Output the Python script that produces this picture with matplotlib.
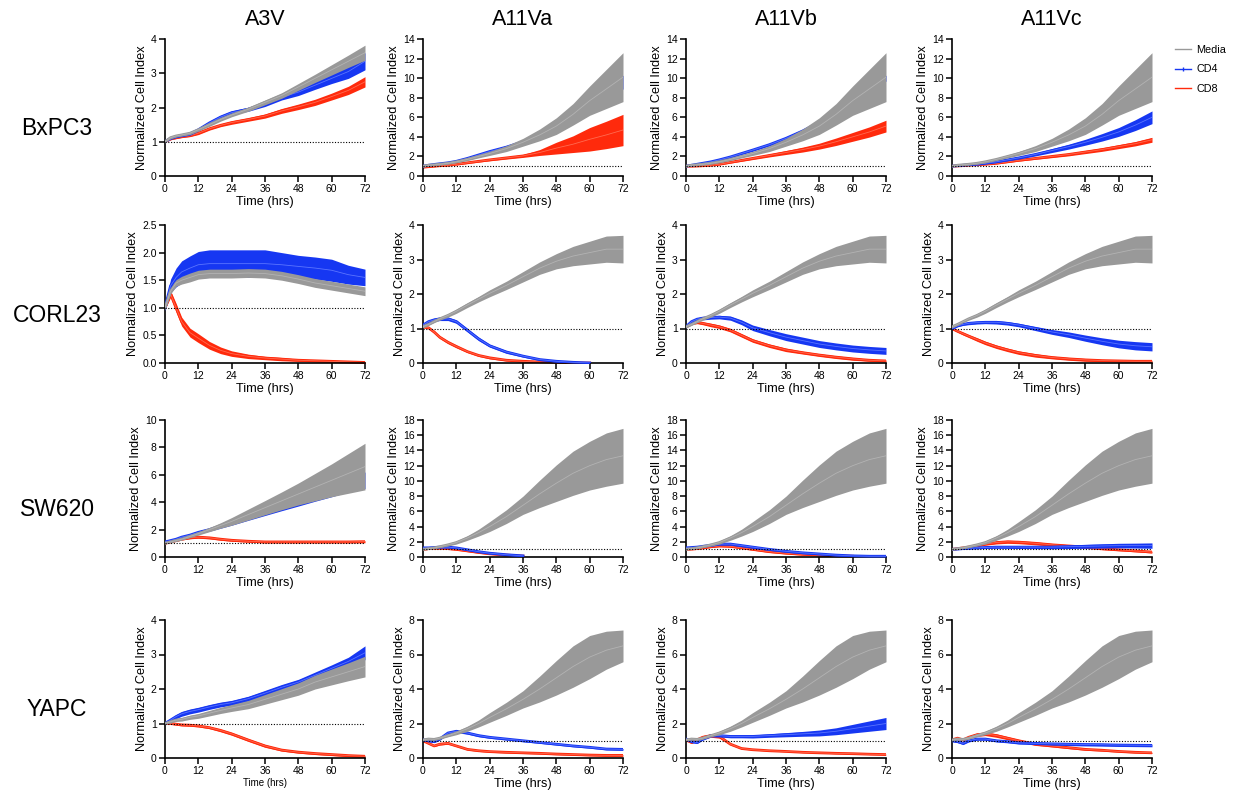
import numpy as np
import matplotlib
matplotlib.use("Agg")
import matplotlib.pyplot as plt
from matplotlib.lines import Line2D

plt.rcParams['font.family'] = ['Liberation Sans', 'DejaVu Sans']

times = [0, 2, 4, 6, 9, 12, 16, 20, 24, 30, 36, 42, 48, 54, 60, 66, 72]
nan = np.nan

cols = ['A3V', 'A11Va', 'A11Vb', 'A11Vc']
rows = ['BxPC3', 'CORL23', 'SW620', 'YAPC']
ylims = [[4, 14, 14, 14], [2.5, 4, 4, 4], [10, 18, 18, 18], [4, 8, 8, 8]]
yticks = [[[0, 1, 2, 3, 4]] + [list(range(0, 15, 2))] * 3,
          [[0, 0.5, 1.0, 1.5, 2.0, 2.5]] + [[0, 1, 2, 3, 4]] * 3,
          [list(range(0, 11, 2))] + [list(range(0, 19, 2))] * 3,
          [[0, 1, 2, 3, 4]] + [[0, 2, 4, 6, 8]] * 3]

# ---- BxPC3 ----
bx_a3v_media = [1.0, 1.12, 1.17, 1.2, 1.25, 1.35, 1.5, 1.65, 1.78, 1.95, 2.15, 2.35, 2.6, 2.85, 3.1, 3.35, 3.6]
bx_a3v_media_err = [0.02, 0.03, 0.03, 0.03, 0.04, 0.04, 0.05, 0.05, 0.05, 0.06, 0.07, 0.08, 0.1, 0.12, 0.15, 0.18, 0.22]
bx_a3v_cd4 = [1.0, 1.1, 1.15, 1.18, 1.23, 1.35, 1.55, 1.72, 1.85, 1.95, 2.1, 2.3, 2.45, 2.65, 2.85, 3.05, 3.35]
bx_a3v_cd4_err = [0.02, 0.03, 0.03, 0.03, 0.04, 0.04, 0.05, 0.05, 0.05, 0.06, 0.07, 0.08, 0.1, 0.12, 0.15, 0.2, 0.25]
bx_a3v_cd8 = [1.0, 1.08, 1.12, 1.15, 1.18, 1.25, 1.38, 1.48, 1.56, 1.65, 1.75, 1.9, 2.02, 2.15, 2.32, 2.5, 2.75]
bx_a3v_cd8_err = [0.02, 0.02, 0.03, 0.03, 0.03, 0.04, 0.04, 0.04, 0.05, 0.05, 0.06, 0.07, 0.08, 0.09, 0.1, 0.12, 0.15]
bx_a11_media = [1.0, 1.1, 1.15, 1.2, 1.3, 1.45, 1.7, 2.0, 2.3, 2.8, 3.45, 4.2, 5.1, 6.3, 7.7, 8.9, 10.1]
bx_a11_media_err = [0.05, 0.05, 0.05, 0.06, 0.07, 0.1, 0.12, 0.15, 0.2, 0.3, 0.4, 0.6, 0.85, 1.1, 1.5, 2.0, 2.5]
bx_a11va_cd4 = [1.0, 1.1, 1.18, 1.25, 1.35, 1.5, 1.8, 2.15, 2.5, 2.95, 3.5, 4.2, 5.0, 5.9, 7.0, 8.2, 9.6]
bx_a11va_cd4_err = [0.05, 0.05, 0.05, 0.05, 0.06, 0.07, 0.08, 0.1, 0.12, 0.15, 0.2, 0.25, 0.3, 0.4, 0.5, 0.6, 0.7]
bx_a11va_cd8 = [0.9, 0.95, 1.0, 1.05, 1.1, 1.2, 1.35, 1.5, 1.65, 1.85, 2.05, 2.4, 2.85, 3.25, 3.75, 4.2, 4.7]
bx_a11va_cd8_err = [0.05, 0.05, 0.05, 0.05, 0.05, 0.06, 0.07, 0.08, 0.1, 0.12, 0.15, 0.3, 0.6, 0.85, 1.2, 1.4, 1.6]
bx_a11vb_cd4 = [1.0, 1.1, 1.2, 1.3, 1.45, 1.65, 1.95, 2.3, 2.65, 3.2, 3.85, 4.6, 5.5, 6.5, 7.6, 8.8, 10.0]
bx_a11vb_cd4_err = [0.05, 0.05, 0.05, 0.05, 0.06, 0.07, 0.08, 0.1, 0.12, 0.13, 0.15, 0.17, 0.2, 0.22, 0.25, 0.28, 0.3]
bx_a11vb_cd8 = [1.0, 1.0, 1.02, 1.05, 1.1, 1.2, 1.4, 1.6, 1.8, 2.1, 2.4, 2.7, 3.05, 3.5, 4.0, 4.5, 5.1]
bx_a11vb_cd8_err = [0.03, 0.03, 0.04, 0.04, 0.05, 0.06, 0.08, 0.1, 0.12, 0.15, 0.2, 0.25, 0.3, 0.38, 0.45, 0.52, 0.6]
bx_a11vc_cd4 = [1.0, 1.05, 1.1, 1.15, 1.2, 1.3, 1.45, 1.65, 1.85, 2.2, 2.6, 3.0, 3.45, 3.95, 4.5, 5.2, 6.0]
bx_a11vc_cd4_err = [0.03, 0.03, 0.04, 0.04, 0.05, 0.06, 0.08, 0.1, 0.12, 0.15, 0.2, 0.25, 0.3, 0.38, 0.45, 0.55, 0.65]
bx_a11vc_cd8 = [1.0, 1.03, 1.06, 1.1, 1.15, 1.2, 1.3, 1.45, 1.6, 1.8, 2.0, 2.2, 2.45, 2.7, 3.0, 3.3, 3.7]
bx_a11vc_cd8_err = [0.02, 0.02, 0.03, 0.03, 0.04, 0.05, 0.06, 0.07, 0.08, 0.1, 0.12, 0.14, 0.16, 0.18, 0.2, 0.22, 0.25]

# ---- CORL23 ----
co_a3v_media = [1.0, 1.3, 1.45, 1.5, 1.55, 1.6, 1.62, 1.62, 1.62, 1.63, 1.62, 1.58, 1.52, 1.45, 1.4, 1.35, 1.3]
co_a3v_media_err = [0.02, 0.05, 0.06, 0.07, 0.08, 0.08, 0.08, 0.08, 0.08, 0.08, 0.08, 0.08, 0.08, 0.08, 0.08, 0.08, 0.08]
co_a3v_cd4 = [1.0, 1.4, 1.55, 1.65, 1.72, 1.78, 1.8, 1.8, 1.8, 1.8, 1.8, 1.78, 1.75, 1.72, 1.68, 1.6, 1.55]
co_a3v_cd4_err = [0.05, 0.12, 0.17, 0.2, 0.22, 0.24, 0.25, 0.25, 0.25, 0.25, 0.25, 0.22, 0.2, 0.2, 0.2, 0.17, 0.15]
co_a3v_cd8 = [1.0, 1.25, 1.0, 0.75, 0.55, 0.45, 0.32, 0.23, 0.17, 0.12, 0.09, 0.07, 0.05, 0.04, 0.03, 0.02, 0.01]
co_a3v_cd8_err = [0.03, 0.06, 0.08, 0.08, 0.08, 0.08, 0.07, 0.06, 0.05, 0.04, 0.03, 0.03, 0.02, 0.02, 0.02, 0.02, 0.02]
co_a11_media = [1.05, 1.12, 1.2, 1.28, 1.38, 1.5, 1.68, 1.85, 2.02, 2.25, 2.5, 2.75, 2.95, 3.1, 3.2, 3.3, 3.3]
co_a11_media_err = [0.03, 0.03, 0.03, 0.04, 0.05, 0.06, 0.07, 0.08, 0.1, 0.12, 0.15, 0.18, 0.22, 0.28, 0.33, 0.38, 0.4]
co_a11va_cd4 = [1.1, 1.2, 1.25, 1.28, 1.28, 1.2, 0.95, 0.7, 0.5, 0.32, 0.2, 0.1, 0.05, 0.02, 0.0, nan, nan]
co_a11va_cd4_err = [0.03, 0.04, 0.05, 0.05, 0.05, 0.05, 0.05, 0.05, 0.04, 0.04, 0.03, 0.03, 0.02, 0.02, 0.02, nan, nan]
co_a11va_cd8 = [1.05, 1.02, 0.9, 0.75, 0.6, 0.48, 0.33, 0.22, 0.15, 0.08, 0.05, 0.03, 0.01, 0.0, 0.0, nan, nan]
co_a11va_cd8_err = [0.03, 0.03, 0.04, 0.04, 0.04, 0.04, 0.03, 0.03, 0.03, 0.02, 0.02, 0.02, 0.02, 0.02, 0.02, nan, nan]
co_a11vb_cd4 = [1.05, 1.2, 1.27, 1.3, 1.32, 1.33, 1.3, 1.18, 1.02, 0.88, 0.75, 0.65, 0.55, 0.48, 0.42, 0.38, 0.35]
co_a11vb_cd4_err = [0.03, 0.03, 0.04, 0.05, 0.05, 0.05, 0.06, 0.07, 0.08, 0.09, 0.1, 0.1, 0.1, 0.1, 0.1, 0.1, 0.1]
co_a11vb_cd8 = [1.05, 1.15, 1.18, 1.15, 1.1, 1.05, 0.95, 0.8, 0.65, 0.5, 0.38, 0.3, 0.23, 0.17, 0.12, 0.08, 0.06]
co_a11vb_cd8_err = [0.03, 0.04, 0.04, 0.04, 0.05, 0.05, 0.05, 0.05, 0.05, 0.05, 0.05, 0.04, 0.04, 0.04, 0.04, 0.03, 0.03]
co_a11vc_cd4 = [1.0, 1.08, 1.12, 1.15, 1.17, 1.18, 1.18, 1.15, 1.1, 1.0, 0.9, 0.82, 0.72, 0.63, 0.55, 0.5, 0.47]
co_a11vc_cd4_err = [0.03, 0.03, 0.03, 0.04, 0.04, 0.04, 0.05, 0.05, 0.05, 0.06, 0.07, 0.08, 0.09, 0.1, 0.11, 0.12, 0.12]
co_a11vc_cd8 = [1.0, 0.92, 0.85, 0.78, 0.68, 0.58, 0.47, 0.38, 0.3, 0.22, 0.16, 0.12, 0.09, 0.07, 0.06, 0.05, 0.05]
co_a11vc_cd8_err = [0.03, 0.03, 0.04, 0.04, 0.05, 0.05, 0.05, 0.05, 0.05, 0.05, 0.04, 0.04, 0.04, 0.03, 0.03, 0.03, 0.03]

# ---- SW620 ----
sw_a3v_media = [1.0, 1.1, 1.2, 1.3, 1.5, 1.7, 2.0, 2.3, 2.6, 3.1, 3.6, 4.1, 4.6, 5.1, 5.6, 6.1, 6.6]
sw_a3v_media_err = [0.03, 0.04, 0.05, 0.06, 0.08, 0.1, 0.15, 0.2, 0.28, 0.4, 0.52, 0.65, 0.8, 1.0, 1.2, 1.45, 1.7]
sw_a3v_cd4 = [1.1, 1.2, 1.3, 1.45, 1.6, 1.8, 2.0, 2.25, 2.5, 2.9, 3.3, 3.7, 4.1, 4.5, 4.9, 5.3, 5.6]
sw_a3v_cd4_err = [0.05, 0.05, 0.06, 0.07, 0.08, 0.1, 0.12, 0.15, 0.18, 0.22, 0.27, 0.32, 0.38, 0.43, 0.5, 0.55, 0.6]
sw_a3v_cd8 = [1.0, 1.1, 1.2, 1.3, 1.4, 1.45, 1.4, 1.3, 1.22, 1.15, 1.1, 1.1, 1.1, 1.1, 1.1, 1.1, 1.12]
sw_a3v_cd8_err = [0.05, 0.05, 0.06, 0.06, 0.07, 0.08, 0.08, 0.08, 0.07, 0.07, 0.07, 0.07, 0.07, 0.07, 0.07, 0.07, 0.08]
sw_a11_media = [1.0, 1.1, 1.2, 1.35, 1.6, 1.9, 2.5, 3.2, 4.0, 5.3, 6.8, 8.3, 9.7, 11.0, 12.0, 12.8, 13.3]
sw_a11_media_err = [0.05, 0.05, 0.08, 0.1, 0.15, 0.2, 0.3, 0.45, 0.65, 0.9, 1.2, 1.8, 2.4, 2.9, 3.2, 3.5, 3.6]
sw_a11va_cd4 = [1.2, 1.2, 1.25, 1.3, 1.3, 1.2, 0.95, 0.7, 0.5, 0.3, 0.15, nan, nan, nan, nan, nan, nan]
sw_a11va_cd4_err = [0.1, 0.1, 0.1, 0.1, 0.1, 0.1, 0.1, 0.1, 0.1, 0.08, 0.08, nan, nan, nan, nan, nan, nan]
sw_a11va_cd8 = [1.0, 1.1, 1.15, 1.15, 1.1, 1.0, 0.8, 0.6, 0.42, 0.25, 0.12, nan, nan, nan, nan, nan, nan]
sw_a11va_cd8_err = [0.1, 0.1, 0.1, 0.1, 0.1, 0.1, 0.1, 0.1, 0.08, 0.08, 0.08, nan, nan, nan, nan, nan, nan]
sw_a11vb_cd4 = [1.2, 1.25, 1.3, 1.4, 1.55, 1.7, 1.7, 1.5, 1.3, 1.0, 0.75, 0.55, 0.4, 0.25, 0.15, 0.1, 0.1]
sw_a11vb_cd4_err = [0.1, 0.1, 0.12, 0.12, 0.13, 0.14, 0.15, 0.15, 0.15, 0.14, 0.13, 0.12, 0.12, 0.1, 0.1, 0.1, 0.1]
sw_a11vb_cd8 = [1.0, 1.05, 1.1, 1.2, 1.35, 1.45, 1.4, 1.2, 1.0, 0.7, 0.5, 0.35, 0.25, 0.15, 0.1, nan, nan]
sw_a11vb_cd8_err = [0.1, 0.1, 0.1, 0.1, 0.1, 0.1, 0.1, 0.1, 0.1, 0.1, 0.1, 0.1, 0.1, 0.1, 0.08, nan, nan]
sw_a11vc_cd4 = [1.0, 1.05, 1.1, 1.15, 1.2, 1.25, 1.3, 1.3, 1.3, 1.3, 1.3, 1.35, 1.4, 1.45, 1.5, 1.5, 1.5]
sw_a11vc_cd4_err = [0.08, 0.08, 0.1, 0.1, 0.12, 0.13, 0.15, 0.16, 0.18, 0.2, 0.22, 0.24, 0.26, 0.28, 0.3, 0.32, 0.35]
sw_a11vc_cd8 = [1.0, 1.1, 1.2, 1.3, 1.5, 1.7, 1.9, 2.0, 1.95, 1.8, 1.6, 1.45, 1.3, 1.1, 0.95, 0.8, 0.65]
sw_a11vc_cd8_err = [0.08, 0.1, 0.1, 0.12, 0.13, 0.15, 0.18, 0.2, 0.2, 0.2, 0.18, 0.17, 0.16, 0.15, 0.14, 0.12, 0.12]

# ---- YAPC ----
ya_a3v_media = [1.0, 1.05, 1.1, 1.12, 1.18, 1.22, 1.3, 1.38, 1.45, 1.55, 1.7, 1.85, 2.0, 2.2, 2.35, 2.5, 2.65]
ya_a3v_media_err = [0.02, 0.03, 0.04, 0.05, 0.06, 0.07, 0.08, 0.09, 0.1, 0.12, 0.14, 0.16, 0.18, 0.2, 0.23, 0.26, 0.3]
ya_a3v_cd4 = [1.0, 1.1, 1.2, 1.28, 1.35, 1.4, 1.48, 1.55, 1.6, 1.72, 1.88, 2.05, 2.2, 2.4, 2.6, 2.8, 3.05]
ya_a3v_cd4_err = [0.03, 0.05, 0.06, 0.07, 0.07, 0.07, 0.07, 0.07, 0.07, 0.07, 0.08, 0.08, 0.08, 0.09, 0.1, 0.12, 0.2]
ya_a3v_cd8 = [1.0, 1.0, 0.98, 0.96, 0.95, 0.93, 0.88, 0.8, 0.7, 0.52, 0.35, 0.23, 0.17, 0.13, 0.1, 0.07, 0.05]
ya_a3v_cd8_err = [0.02, 0.02, 0.03, 0.03, 0.03, 0.03, 0.03, 0.04, 0.04, 0.04, 0.04, 0.03, 0.03, 0.03, 0.03, 0.03, 0.03]
ya_a11_media = [1.05, 1.1, 1.08, 1.15, 1.3, 1.45, 1.7, 2.0, 2.35, 2.85, 3.4, 4.0, 4.65, 5.3, 5.85, 6.25, 6.5]
ya_a11_media_err = [0.05, 0.05, 0.05, 0.06, 0.07, 0.1, 0.15, 0.2, 0.28, 0.38, 0.5, 0.75, 1.0, 1.2, 1.25, 1.1, 0.92]
ya_a11va_cd4 = [1.05, 1.0, 0.95, 1.1, 1.45, 1.55, 1.45, 1.3, 1.2, 1.1, 1.0, 0.9, 0.8, 0.7, 0.62, 0.52, 0.5]
ya_a11va_cd4_err = [0.05, 0.06, 0.06, 0.07, 0.08, 0.08, 0.07, 0.07, 0.06, 0.06, 0.06, 0.05, 0.05, 0.05, 0.05, 0.05, 0.05]
ya_a11va_cd8 = [1.0, 0.85, 0.7, 0.8, 0.85, 0.7, 0.5, 0.42, 0.37, 0.33, 0.3, 0.27, 0.23, 0.2, 0.17, 0.15, 0.15]
ya_a11va_cd8_err = [0.04, 0.04, 0.04, 0.05, 0.05, 0.04, 0.04, 0.04, 0.04, 0.04, 0.04, 0.04, 0.04, 0.04, 0.04, 0.04, 0.04]
ya_a11vb_cd4 = [1.1, 0.95, 0.9, 1.1, 1.3, 1.3, 1.25, 1.25, 1.25, 1.3, 1.35, 1.4, 1.45, 1.55, 1.7, 1.85, 2.0]
ya_a11vb_cd4_err = [0.05, 0.06, 0.06, 0.07, 0.08, 0.08, 0.08, 0.08, 0.09, 0.1, 0.12, 0.14, 0.17, 0.2, 0.25, 0.3, 0.35]
ya_a11vb_cd8 = [1.05, 0.9, 1.05, 1.2, 1.3, 1.25, 0.8, 0.55, 0.48, 0.42, 0.38, 0.33, 0.3, 0.27, 0.25, 0.22, 0.2]
ya_a11vb_cd8_err = [0.05, 0.06, 0.08, 0.1, 0.1, 0.1, 0.05, 0.03, 0.02, 0.02, 0.02, 0.02, 0.02, 0.02, 0.02, 0.02, 0.02]
ya_a11vc_cd4 = [1.0, 0.95, 0.85, 1.0, 1.1, 1.1, 1.0, 0.95, 0.88, 0.85, 0.82, 0.8, 0.78, 0.77, 0.75, 0.74, 0.73]
ya_a11vc_cd4_err = [0.05, 0.06, 0.07, 0.07, 0.07, 0.07, 0.07, 0.07, 0.07, 0.07, 0.07, 0.08, 0.08, 0.08, 0.08, 0.08, 0.08]
ya_a11vc_cd8 = [1.05, 1.15, 1.05, 1.2, 1.35, 1.4, 1.3, 1.15, 1.0, 0.8, 0.7, 0.6, 0.5, 0.45, 0.38, 0.33, 0.3]
ya_a11vc_cd8_err = [0.05, 0.06, 0.07, 0.08, 0.1, 0.1, 0.1, 0.09, 0.08, 0.07, 0.06, 0.06, 0.05, 0.05, 0.04, 0.04, 0.04]

# panel table: (media, media_err, cd4, cd4_err, cd8, cd8_err)
panels = [
    [(bx_a3v_media, bx_a3v_media_err, bx_a3v_cd4, bx_a3v_cd4_err, bx_a3v_cd8, bx_a3v_cd8_err),
     (bx_a11_media, bx_a11_media_err, bx_a11va_cd4, bx_a11va_cd4_err, bx_a11va_cd8, bx_a11va_cd8_err),
     (bx_a11_media, bx_a11_media_err, bx_a11vb_cd4, bx_a11vb_cd4_err, bx_a11vb_cd8, bx_a11vb_cd8_err),
     (bx_a11_media, bx_a11_media_err, bx_a11vc_cd4, bx_a11vc_cd4_err, bx_a11vc_cd8, bx_a11vc_cd8_err)],
    [(co_a3v_media, co_a3v_media_err, co_a3v_cd4, co_a3v_cd4_err, co_a3v_cd8, co_a3v_cd8_err),
     (co_a11_media, co_a11_media_err, co_a11va_cd4, co_a11va_cd4_err, co_a11va_cd8, co_a11va_cd8_err),
     (co_a11_media, co_a11_media_err, co_a11vb_cd4, co_a11vb_cd4_err, co_a11vb_cd8, co_a11vb_cd8_err),
     (co_a11_media, co_a11_media_err, co_a11vc_cd4, co_a11vc_cd4_err, co_a11vc_cd8, co_a11vc_cd8_err)],
    [(sw_a3v_media, sw_a3v_media_err, sw_a3v_cd4, sw_a3v_cd4_err, sw_a3v_cd8, sw_a3v_cd8_err),
     (sw_a11_media, sw_a11_media_err, sw_a11va_cd4, sw_a11va_cd4_err, sw_a11va_cd8, sw_a11va_cd8_err),
     (sw_a11_media, sw_a11_media_err, sw_a11vb_cd4, sw_a11vb_cd4_err, sw_a11vb_cd8, sw_a11vb_cd8_err),
     (sw_a11_media, sw_a11_media_err, sw_a11vc_cd4, sw_a11vc_cd4_err, sw_a11vc_cd8, sw_a11vc_cd8_err)],
    [(ya_a3v_media, ya_a3v_media_err, ya_a3v_cd4, ya_a3v_cd4_err, ya_a3v_cd8, ya_a3v_cd8_err),
     (ya_a11_media, ya_a11_media_err, ya_a11va_cd4, ya_a11va_cd4_err, ya_a11va_cd8, ya_a11va_cd8_err),
     (ya_a11_media, ya_a11_media_err, ya_a11vb_cd4, ya_a11vb_cd4_err, ya_a11vb_cd8, ya_a11vb_cd8_err),
     (ya_a11_media, ya_a11_media_err, ya_a11vc_cd4, ya_a11vc_cd4_err, ya_a11vc_cd8, ya_a11vc_cd8_err)],
]

GRAY, GRAY_L = '#999999', '#b3b3b3'
BLUE, BLUE_L = '#1637f2', '#5a74ff'
RED, RED_L = '#ff2a0c', '#ff6a50'


def band(ax, mean, err, col, lcol, z):
    m = np.array(mean, float)
    e = np.array(err, float)
    ax.fill_between(times, m - e, m + e, color=col, lw=0, zorder=z)
    ax.plot(times, m, color=col, lw=2.0, zorder=z)
    ax.plot(times, m, color=lcol, lw=0.6, zorder=z + 0.1)


fig = plt.figure(figsize=(12.36, 8.0), dpi=100)

col_left = [165, 423, 686, 952]
row_span = [(39, 176), (225, 363), (420, 557), (620, 758)]
W, H = 1236.0, 800.0

for r in range(4):
    for c in range(4):
        top, bot = row_span[r]
        ax = fig.add_axes([col_left[c] / W, 1 - bot / H, 200 / W, (bot - top) / H])
        med, med_e, cd4, cd4_e, cd8, cd8_e = panels[r][c]
        band(ax, cd8, cd8_e, RED, RED_L, 2)
        band(ax, cd4, cd4_e, BLUE, BLUE_L, 3)
        band(ax, med, med_e, GRAY, GRAY_L, 4)
        ax.plot([0, 72], [1, 1], color='black', lw=0.8, ls=(0, (1, 1.5)), zorder=5)
        ax.set_xlim(0, 72)
        ax.set_ylim(0, ylims[r][c])
        ax.set_xticks([0, 12, 24, 36, 48, 60, 72])
        ax.set_yticks(yticks[r][c])
        if r == 1 and c == 0:
            ax.set_yticklabels(['%.1f' % v for v in yticks[r][c]])
        for s in ['top', 'right']:
            ax.spines[s].set_visible(False)
        for s in ['left', 'bottom']:
            ax.spines[s].set_linewidth(1.2)
        ax.tick_params(direction='out', length=4, width=1.1, labelsize=7.5, pad=2)
        ax.set_ylabel('Normalized Cell Index', fontsize=9.2, labelpad=2)
        if r == 3 and c == 0:
            ax.set_xlabel('Time (hrs)', fontsize=7, labelpad=1)
        else:
            ax.set_xlabel('Time (hrs)', fontsize=9.2, labelpad=1)
        if r == 0:
            ax.set_title(cols[c], fontsize=15.5, pad=10)
        if c == 0:
            fig.text(57 / W, 1 - ((top + bot) / 2 + 21) / H, rows[r],
                     fontsize=16.5, ha='center', va='center')

handles = [Line2D([], [], color=GRAY, lw=1),
           Line2D([], [], color=BLUE, lw=1, marker='|', markersize=3),
           Line2D([], [], color=RED, lw=1)]
fig.legend(handles, ['Media', 'CD4', 'CD8'], loc='upper left', bbox_to_anchor=(1165 / W, 1 - 35 / H),
           frameon=False, fontsize=7.8, handlelength=1.5, labelspacing=0.9, handletextpad=0.5)

fig.savefig('out.png', dpi=100)
